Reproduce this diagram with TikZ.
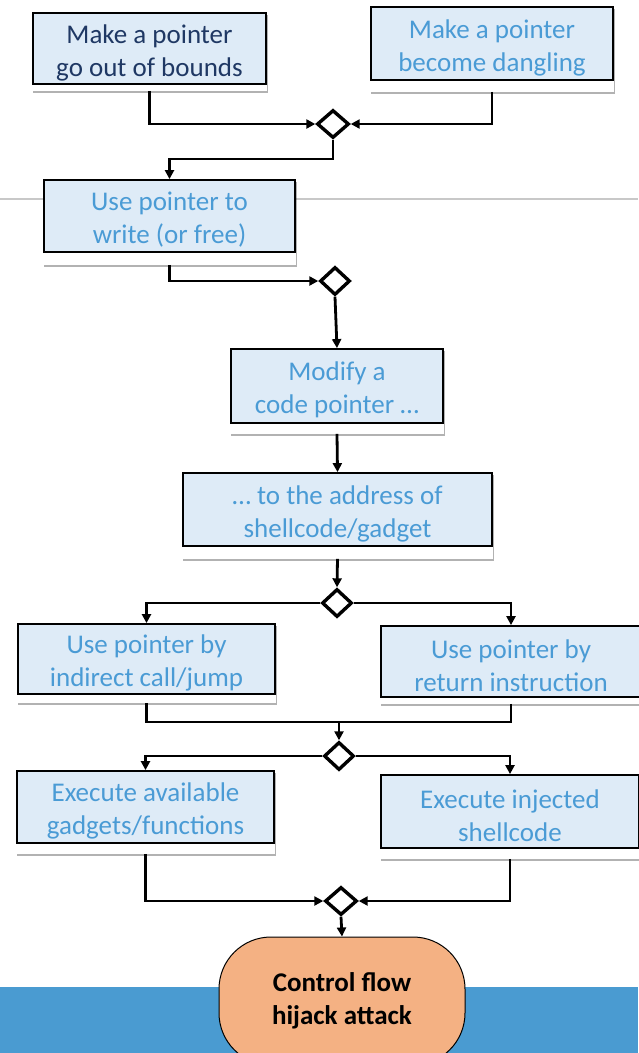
\documentclass[tikz,border=0pt]{standalone}
\usepackage{fontspec}
\setmainfont{Carlito}
\usetikzlibrary{shapes.geometric,arrows.meta,shadows,backgrounds}
\definecolor{boxfill}{HTML}{DEEBF7}
\definecolor{boxtext}{HTML}{4A9BD5}
\definecolor{navytext}{HTML}{1F3864}
\definecolor{bandblue}{HTML}{4A9BD1}
\definecolor{rulegray}{HTML}{C8C8C8}
\definecolor{endfill}{HTML}{F4B183}

\begin{document}
\begin{tikzpicture}[x=1pt,y=-1pt,
  stepbox/.style={draw=black, line width=1.8pt, fill=boxfill, inner sep=0pt},
  steptext/.style={align=center, text=boxtext, inner sep=0pt, yshift=-4pt,
    font=\fontsize{27}{33}\selectfont},
  merge/.style={diamond, draw=black, fill=white, line width=3.4pt, inner sep=0pt,
    minimum width=30pt, minimum height=28pt},
  flow/.style={line width=2.8pt, -{Triangle[length=9pt,width=9pt]}},
  joinline/.style={line width=2.8pt},
  strip/.style={fill=white, drop shadow={shadow xshift=1pt, shadow yshift=-2.5pt,
    opacity=0.3, fill=black}},
  endnode/.style={draw=black, line width=1pt, fill=endfill, rounded corners=52pt,
    align=center, inner sep=0pt, font=\fontsize{27}{33}\selectfont\bfseries}
]
\useasboundingbox (0,0) rectangle (638,1053);

% process steps
\node[stepbox, minimum width=233, minimum height=71,
  label={[steptext, text=navytext]center:{Make a pointer\\go out of bounds}}]
  (b1) at (149.5,48.5) {};
\node[stepbox, minimum width=242, minimum height=73,
  label={[steptext]center:{Make a pointer\\become dangling}}]
  (b2) at (492,43.5) {};
\node[stepbox, minimum width=251, minimum height=72,
  label={[steptext]center:{Use pointer to\\write (or free)}}]
  (b3) at (169.5,216) {};
\node[stepbox, minimum width=212, minimum height=74,
  label={[steptext]center:{Modify a\\code pointer \dots}}]
  (b4) at (337,386) {};
\node[stepbox, minimum width=309, minimum height=73,
  label={[steptext]center:{\dots\ to the address of\\shellcode/gadget}}]
  (b5) at (337.5,509.5) {};
\node[stepbox, minimum width=257, minimum height=70,
  label={[steptext]center:{Use pointer by\\indirect call/jump}}]
  (b6) at (146.5,659) {};
\node[stepbox, minimum width=260, minimum height=71,
  label={[steptext]center:{Use pointer by\\return instruction}}]
  (b7) at (511,661.5) {};
\node[stepbox, minimum width=257, minimum height=72,
  label={[steptext]center:{Execute available\\gadgets/functions}}]
  (b8) at (145.5,807) {};
\node[stepbox, minimum width=258, minimum height=73,
  label={[steptext]center:{Execute injected\\shellcode}}]
  (b9) at (510,811.5) {};

% merge / branch points
\node[merge, minimum width=32pt] (d1) at (333,124) {};
\node[merge] (d2) at (335,281) {};
\node[merge] (d3) at (337,603) {};
\node[merge] (d4) at (339,756) {};
\node[merge, minimum width=32pt] (d5) at (341,901) {};

% final outcome
\node[endnode, minimum width=246, minimum height=128] (f) at (342,1001)
  {Control flow\\hijack attack};

% lower edges of the white box plates
\coordinate (b1s) at ([yshift=-6pt]b1.south);
\coordinate (b2s) at ([yshift=-11pt]b2.south);
\coordinate (b3s) at ([yshift=-12pt]b3.south);
\coordinate (b4s) at ([yshift=-10pt]b4.south);
\coordinate (b5s) at ([yshift=-12pt]b5.south);
\coordinate (b6s) at ([yshift=-8pt]b6.south);
\coordinate (b7s) at ([yshift=-6pt]b7.south);
\coordinate (b8s) at ([yshift=-10pt]b8.south);
\coordinate (b9s) at ([yshift=-10pt]b9.south);

% background: rule, band and shadowed plates under the boxes
\begin{scope}[on background layer]
  \draw[rulegray, line width=2pt] (0,199) -- (638,199);
  \fill[bandblue] (0,987) rectangle (638,1053);
  \path[strip] (b1.north west) rectangle (b1s -| b1.east);
  \path[strip] (b2.north west) rectangle (b2s -| b2.east);
  \path[strip] (b3.north west) rectangle (b3s -| b3.east);
  \path[strip] (b4.north west) rectangle (b4s -| b4.east);
  \path[strip] (b5.north west) rectangle (b5s -| b5.east);
  \path[strip] (b6.north west) rectangle (b6s -| b6.east);
  \path[strip] (b7.north west) rectangle (b7s -| b7.east);
  \path[strip] (b8.north west) rectangle (b8s -| b8.east);
  \path[strip] (b9.north west) rectangle (b9s -| b9.east);
\end{scope}

% connectors
\coordinate (k1) at (333,159);
\coordinate (j2) at (339,722);
\draw[flow] (b1s) |- (d1.west);
\draw[flow] (b2s) |- (d1.east);
\draw[flow] (d1.south) -- (k1) -| (b3.north);
\draw[flow] (b3s) |- (d2.west);
\draw[flow] (d2.south) -- (b4.north);
\draw[flow] (b4s) -- (b5.north);
\draw[flow] (b5s) -- (d3.north);
\draw[flow] (d3.west) -| (b6.north);
\draw[flow] (d3.east) -| (b7.north);
\draw[joinline] (b6s) |- (j2);
\draw[joinline] (b7s) |- (j2);
\draw[flow] (j2) -- (d4.north);
\draw[flow] (d4.west) -| (b8.north);
\draw[flow] (d4.east) -| (b9.north);
\draw[flow] (b8s) |- (d5.west);
\draw[flow] (b9s) |- (d5.east);
\draw[flow] (d5.south) -- (f.north);
\end{tikzpicture}
\end{document}
